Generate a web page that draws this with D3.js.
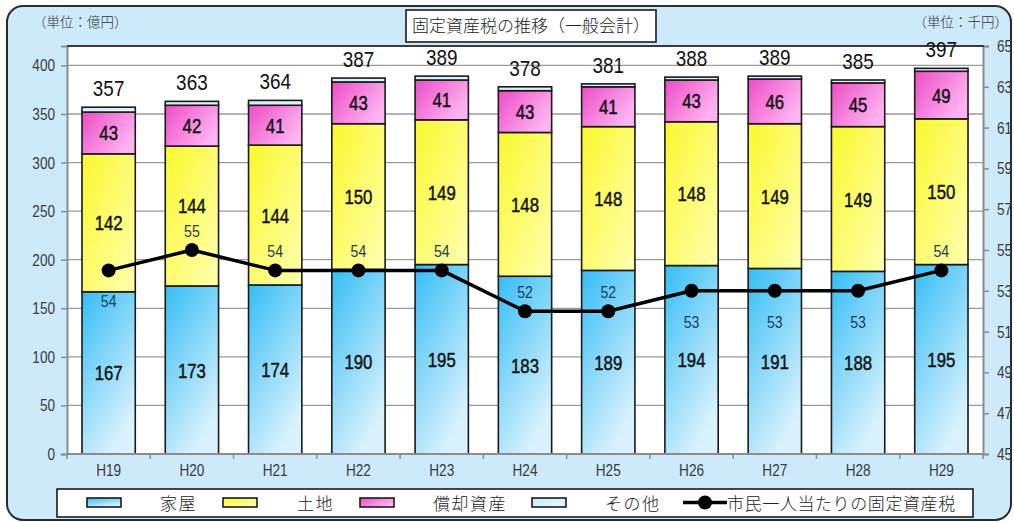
<!DOCTYPE html>
<html lang="ja">
<head>
<meta charset="utf-8">
<script src="https://cdn.jsdelivr.net/npm/d3@7"></script>
<style>
  html, body { margin: 0; padding: 0; background: #ffffff; }
  svg { display: block; }
  .num { font-family: "Liberation Sans", Arial, sans-serif; }
  .jp { font-family: "Noto Sans CJK JP", "Noto Sans", sans-serif; }
</style>
</head>
<body>
<svg id="chart" width="1014" height="522"></svg>
<script>
// Fiscal years (Heisei)
const years = ["H19", "H20", "H21", "H22", "H23", "H24", "H25", "H26", "H27", "H28", "H29"];

// Fixed asset tax by type (100 million yen)
const houses   = [167, 173, 174, 190, 195, 183, 189, 194, 191, 188, 195];   // 家屋
const land     = [142, 144, 144, 150, 149, 148, 148, 148, 149, 149, 150];   // 土地
const depreciable = [43, 42, 41, 43, 41, 43, 41, 43, 46, 45, 49];           // 償却資産
const totals   = [357, 363, 364, 387, 389, 378, 381, 388, 389, 385, 397];   // 合計
// その他 = total minus the three itemised types
const others   = totals.map((t, i) => t - houses[i] - land[i] - depreciable[i]);

// Fixed asset tax per citizen (thousand yen)
const perCitizen = [54, 55, 54, 54, 54, 52, 52, 53, 53, 53, 54];
// which side of the marker each per-citizen value label sits on
const perCitizenLabelSide = ["below", "above", "above", "above", "above", "above", "above", "below", "below", "below", "above"];

// Axis ticks
const leftTicks  = [0, 50, 100, 150, 200, 250, 300, 350, 400];
const rightTicks = [45, 47, 49, 51, 53, 55, 57, 59, 61, 63, 65];

// Series names for the legend
const seriesNames = ["家屋", "土地", "償却資産", "その他"];
const lineName = "市民一人当たりの固定資産税";

const svg = d3.select("#chart");
const plot = { left: 67, right: 983, top: 46, bottom: 454 };

// horizontally condense a text element around its own anchor point
function condense(sel, k) {
  sel.each(function () {
    const t = d3.select(this);
    const ax = +t.attr("x") || 0;
    t.attr("transform", `translate(${ax},0) scale(${k},1) translate(${-ax},0)`);
  });
}

// ---------- defs: gradients ----------
const defs = svg.append("defs");
function grad(id, stops, x2 = "100%", y2 = "100%") {
  const g = defs.append("linearGradient").attr("id", id)
    .attr("x1", "0%").attr("y1", "0%").attr("x2", x2).attr("y2", y2);
  stops.forEach(([o, c]) => g.append("stop").attr("offset", o).attr("stop-color", c));
}
grad("gHouse", [["0%", "#34bdf5"], ["100%", "#d9f2fd"]], "55%", "100%");
grad("gLand", [["0%", "#fbf82e"], ["100%", "#ffffb0"]], "100%", "100%");
grad("gDep", [["0%", "#ec4cc6"], ["100%", "#ffb4f2"]], "100%", "60%");
grad("gOther", [["0%", "#c6ecfb"], ["100%", "#eaf8fe"]], "100%", "100%");

// ---------- outer panel ----------
svg.append("rect")
  .attr("x", 7).attr("y", 6).attr("width", 1004).attr("height", 514)
  .attr("rx", 16).attr("ry", 16)
  .attr("fill", "#cdeafa").attr("stroke", "#2b2b2b").attr("stroke-width", 2);

// plot background
svg.append("rect")
  .attr("x", plot.left).attr("y", plot.top)
  .attr("width", plot.right - plot.left).attr("height", plot.bottom - plot.top)
  .attr("fill", "#ffffff");

// ---------- scales ----------
const x = d3.scaleBand().domain(years)
  .range([plot.left, plot.right]).paddingInner(0.36).paddingOuter(0.18);
const yL = d3.scaleLinear().domain([0, 420]).range([plot.bottom, plot.top]);
const yR = d3.scaleLinear().domain([45, 65]).range([plot.bottom, plot.top]);

// ---------- gridlines ----------
svg.append("g").selectAll("line").data(leftTicks.filter(d => d > 0)).join("line")
  .attr("x1", plot.left).attr("x2", plot.right)
  .attr("y1", d => yL(d)).attr("y2", d => yL(d))
  .attr("stroke", "#9a9a9a").attr("stroke-width", 1.3);

// ---------- stacked bars ----------
const keys = ["house", "land", "dep", "other"];
const fills = { house: "url(#gHouse)", land: "url(#gLand)", dep: "url(#gDep)", other: "url(#gOther)" };
const rows = years.map((yr, i) => ({
  year: yr, house: houses[i], land: land[i], dep: depreciable[i], other: others[i]
}));
const stack = d3.stack().keys(keys)(rows);

const barG = svg.append("g");
stack.forEach(layer => {
  barG.append("g").selectAll("rect").data(layer).join("rect")
    .attr("x", d => x(d.data.year))
    .attr("width", x.bandwidth())
    .attr("y", d => yL(d[1]))
    .attr("height", d => yL(d[0]) - yL(d[1]))
    .attr("fill", fills[layer.key])
    .attr("stroke", "#1a1a1a").attr("stroke-width", 1.6);
});

// ---------- axes ----------
const axisColor = "#8c8c8c";
const leftAxis = svg.append("g").attr("transform", `translate(${plot.left},0)`)
  .call(d3.axisLeft(yL).tickValues(leftTicks).tickSize(6).tickPadding(6));
const rightAxis = svg.append("g").attr("transform", `translate(${plot.right},0)`)
  .call(d3.axisRight(yR).tickValues(rightTicks).tickSize(6).tickPadding(8));
[leftAxis, rightAxis].forEach(a => {
  a.select(".domain").attr("stroke", axisColor).attr("stroke-width", 2);
  a.selectAll(".tick line").attr("stroke", axisColor).attr("stroke-width", 1.5);
  a.selectAll(".tick text").attr("class", "num").attr("font-size", 17).attr("fill", "#3a3a3a")
    .call(condense, 0.8);
});

const bottomAxis = svg.append("g").attr("transform", `translate(0,${plot.bottom})`)
  .call(d3.axisBottom(x).tickSize(0).tickPadding(10));
bottomAxis.select(".domain").remove();
bottomAxis.selectAll(".tick text").attr("class", "num").attr("font-size", 17).attr("fill", "#3a3a3a")
  .call(condense, 0.8);
svg.append("line")
  .attr("x1", plot.left).attr("x2", plot.right)
  .attr("y1", plot.bottom).attr("y2", plot.bottom)
  .attr("stroke", axisColor).attr("stroke-width", 2);
// category boundary ticks
const step = x.step();
svg.append("g").selectAll("line").data(d3.range(years.length + 1)).join("line")
  .attr("x1", i => plot.left + i * step).attr("x2", i => plot.left + i * step)
  .attr("y1", plot.bottom).attr("y2", plot.bottom + 5)
  .attr("stroke", axisColor).attr("stroke-width", 1.5);

// top frame line
svg.append("line")
  .attr("x1", plot.left).attr("x2", plot.right + 1)
  .attr("y1", plot.top).attr("y2", plot.top)
  .attr("stroke", "#3a3a3a").attr("stroke-width", 2);

// ---------- value labels inside segments ----------
const cx = d => x(d) + x.bandwidth() / 2;
const labelG = svg.append("g").attr("class", "num")
  .attr("font-size", 21).attr("fill", "#111").attr("text-anchor", "middle")
  .attr("stroke", "#111").attr("stroke-width", 0.45);

function segLabel(vals, yFn) {
  labelG.append("g").selectAll("text").data(years).join("text")
    .attr("x", d => cx(d))
    .attr("y", (d, i) => yFn(i))
    .attr("dy", "0.36em")
    .text((d, i) => vals[i])
    .call(condense, 0.8);
}
segLabel(houses, i => yL(houses[i] / 2));
segLabel(land, i => {
  const mid = yL(houses[i] + land[i] / 2);
  return Math.min(mid, yR(perCitizen[i]) - 45);
});
segLabel(depreciable, i => yL(houses[i] + land[i] + depreciable[i] / 2));

// totals above bars
svg.append("g").attr("class", "num").attr("font-size", 22).attr("fill", "#111")
  .attr("text-anchor", "middle")
  .selectAll("text").data(years).join("text")
  .attr("x", d => cx(d))
  .attr("y", (d, i) => yL(totals[i]) - 11)
  .text((d, i) => totals[i])
  .call(condense, 0.86);

// ---------- per-citizen line ----------
const line = d3.line().x((d, i) => cx(years[i])).y(d => yR(d));
svg.append("path").datum(perCitizen)
  .attr("d", line).attr("fill", "none")
  .attr("stroke", "#000").attr("stroke-width", 3.5).attr("stroke-linejoin", "round");
svg.append("g").selectAll("circle").data(perCitizen).join("circle")
  .attr("cx", (d, i) => cx(years[i])).attr("cy", d => yR(d)).attr("r", 7)
  .attr("fill", "#000");
svg.append("g").attr("class", "num").attr("font-size", 16).attr("fill", "#1f3a5c")
  .attr("text-anchor", "middle")
  .selectAll("text").data(perCitizen).join("text")
  .attr("x", (d, i) => cx(years[i]))
  .attr("y", (d, i) => yR(d) + (perCitizenLabelSide[i] === "above" ? -13 : 37))
  .text(d => d)
  .call(condense, 0.88);

// ---------- title & units ----------
svg.append("rect").attr("x", 406).attr("y", 10).attr("width", 250).attr("height", 32)
  .attr("fill", "#fff").attr("stroke", "#1a1a1a").attr("stroke-width", 1.6);
svg.append("text").attr("class", "jp").attr("x", 531).attr("y", 32)
  .attr("text-anchor", "middle").attr("font-size", 17).attr("font-weight", 300).attr("fill", "#222")
  .text("固定資産税の推移（一般会計）");
svg.append("text").attr("class", "jp").attr("x", 33).attr("y", 27)
  .attr("font-size", 13.5).attr("font-weight", 300).attr("fill", "#333").text("（単位：億円）");
svg.append("text").attr("class", "jp").attr("x", 1008).attr("y", 27)
  .attr("text-anchor", "end").attr("font-weight", 300)
  .attr("font-size", 13.5).attr("fill", "#333").text("（単位：千円）");

// ---------- legend ----------
const lg = svg.append("g");
lg.append("rect").attr("x", 57).attr("y", 489).attr("width", 916).attr("height", 28)
  .attr("fill", "#fff").attr("stroke", "#1a1a1a").attr("stroke-width", 1.6);
const legendFills = ["url(#gHouse)", "url(#gLand)", "url(#gDep)", "url(#gOther)"];
const swatchX = [87, 223, 360, 532];
const labelX = [160, 297, 433, 605];
seriesNames.forEach((name, i) => {
  lg.append("rect").attr("x", swatchX[i]).attr("y", 498).attr("width", 34).attr("height", 9)
    .attr("fill", legendFills[i]).attr("stroke", "#1a1a1a").attr("stroke-width", 1.6);
  lg.append("text").attr("class", "jp").attr("x", labelX[i]).attr("y", 510)
    .attr("font-size", 17).attr("font-weight", 300).attr("letter-spacing", 1.5).attr("fill", "#222").text(name);
});
lg.append("line").attr("x1", 683).attr("x2", 727).attr("y1", 502.5).attr("y2", 502.5)
  .attr("stroke", "#000").attr("stroke-width", 3.5);
lg.append("circle").attr("cx", 705).attr("cy", 502.5).attr("r", 7).attr("fill", "#000");
lg.append("text").attr("class", "jp").attr("x", 727).attr("y", 510)
  .attr("font-size", 17).attr("font-weight", 300).attr("letter-spacing", 0.6).attr("fill", "#222").text(lineName);
</script>
</body>
</html>
